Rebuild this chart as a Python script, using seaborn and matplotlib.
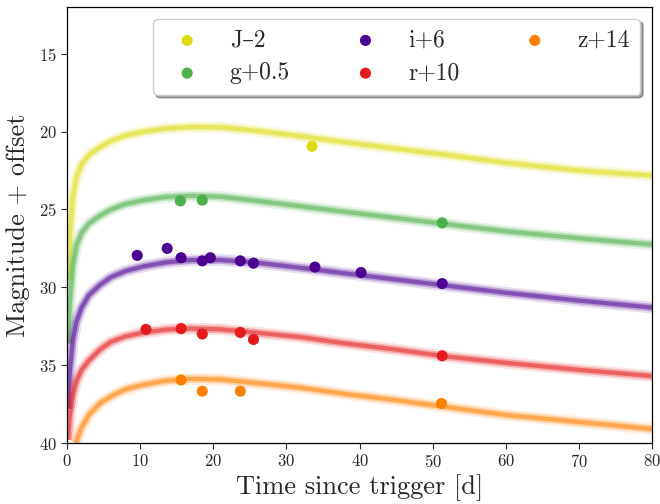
import matplotlib
matplotlib.use("Agg")
import matplotlib.pyplot as plt
import seaborn as sns
import pandas as pd

# model light curves (magnitude + offset) on a common time grid [days]
t_model = [0.15, 0.4, 0.8, 1.3, 2, 3, 4.5, 6, 8, 10.5, 13.5, 17, 21, 26, 32, 38, 45, 52, 60, 70, 80]
J_model = [29.5, 26.5, 24.2, 22.9, 22.1, 21.5, 21.0, 20.6, 20.25, 20.0, 19.8, 19.7, 19.72,
           19.95, 20.3, 20.68, 21.1, 21.5, 22.0, 22.5, 22.82]
g_model = [33.6, 30.9, 28.6, 27.3, 26.5, 25.9, 25.4, 25.0, 24.65, 24.4, 24.2, 24.12, 24.18,
           24.45, 24.8, 25.15, 25.55, 25.95, 26.4, 26.85, 27.25]
i_model = [37.8, 35.3, 33.4, 32.2, 31.3, 30.5, 29.85, 29.35, 28.95, 28.65, 28.4, 28.25, 28.25,
           28.42, 28.75, 29.1, 29.5, 29.9, 30.35, 30.85, 31.3]
r_model = [39.8, 38.2, 36.9, 36.0, 35.3, 34.7, 34.0, 33.5, 33.15, 32.9, 32.72, 32.65, 32.7,
           32.92, 33.2, 33.6, 34.0, 34.45, 34.85, 35.3, 35.7]
t_model_z = [1.2, 1.5, 2, 3, 4.5, 6, 8, 10.5, 13.5, 17, 21, 26, 32, 38, 45, 52, 60, 70, 80]
z_model = [40.0, 39.6, 39.0, 38.2, 37.45, 37.0, 36.55, 36.25, 36.0, 35.88, 35.92, 36.15,
           36.45, 36.85, 37.25, 37.7, 38.2, 38.65, 39.1]

# observed photometry
J_t = [33.5]
J_m = [20.95]
g_t = [15.5, 18.5, 51.3]
g_m = [24.45, 24.4, 25.86]
i_t = [9.6, 13.7, 15.6, 18.5, 19.6, 23.7, 25.5, 33.9, 40.2, 51.3]
i_m = [27.95, 27.5, 28.1, 28.3, 28.1, 28.3, 28.45, 28.7, 29.05, 29.76]
r_t = [10.8, 15.6, 18.5, 23.7, 25.5, 51.3]
r_m = [32.7, 32.65, 33.0, 32.9, 33.35, 34.4]
z_t = [15.6, 18.5, 23.7, 51.2]
z_m = [35.95, 36.67, 36.67, 37.46]

labels = ["J–2", "g+0.5", "i+6", "r+10", "z+14"]
colors = ["#dcdc14", "#4daf4a", "#4b0092", "#e41a1c", "#ff7f00"]
xticks = [0, 10, 20, 30, 40, 50, 60, 70, 80]
yticks = [15, 20, 25, 30, 35, 40]

sns.set_theme(style="ticks")
plt.rcParams["font.family"] = ["cmr10", "DejaVu Serif"]
plt.rcParams["mathtext.fontset"] = "cm"
plt.rcParams["axes.formatter.use_mathtext"] = True
plt.rcParams["axes.unicode_minus"] = False

fig, ax = plt.subplots(figsize=(6.6, 5.04), dpi=100)
fig.subplots_adjust(left=0.1015, right=0.988, top=0.986, bottom=0.121)

models = [(t_model, J_model), (t_model, g_model), (t_model, i_model),
          (t_model, r_model), (t_model_z, z_model)]
obs = [(J_t, J_m), (g_t, g_m), (i_t, i_m), (r_t, r_m), (z_t, z_m)]

# soft bands: layered translucent strokes of the same model curve
for (tm, mm), col in zip(models, colors):
    df = pd.DataFrame({"t": tm, "m": mm})
    for lw, a in [(8.5, 0.13), (5.5, 0.28), (3.0, 0.5)]:
        sns.lineplot(data=df, x="t", y="m", ax=ax, color=col, lw=lw, alpha=a,
                     solid_capstyle="butt", sort=False, legend=False, zorder=2)

for (tt, mm), col, lab in zip(obs, colors, labels):
    df = pd.DataFrame({"t": tt, "m": mm})
    sns.scatterplot(data=df, x="t", y="m", ax=ax, color=col, s=64, edgecolor="none",
                    label=lab, zorder=4)

ax.set_xlim(0, 80)
ax.set_ylim(40, 12)
ax.set_xticks(xticks)
ax.set_yticks(yticks)
ax.tick_params(labelsize=12, length=4, width=0.8, direction="out")
for s in ax.spines.values():
    s.set_linewidth(0.9)
    s.set_color("black")
ax.set_xlabel("Time since trigger [d]", fontsize=19, labelpad=3)
ax.set_ylabel("Magnitude + offset", fontsize=19, labelpad=6)

leg = ax.legend(loc="upper right", ncol=3, fontsize=17, frameon=True, shadow=True,
                framealpha=1, edgecolor="#cccccc", scatterpoints=1,
                handletextpad=0.8, columnspacing=2.2, borderpad=0.45,
                labelspacing=0.45)

fig.savefig("out.png", dpi=100)
